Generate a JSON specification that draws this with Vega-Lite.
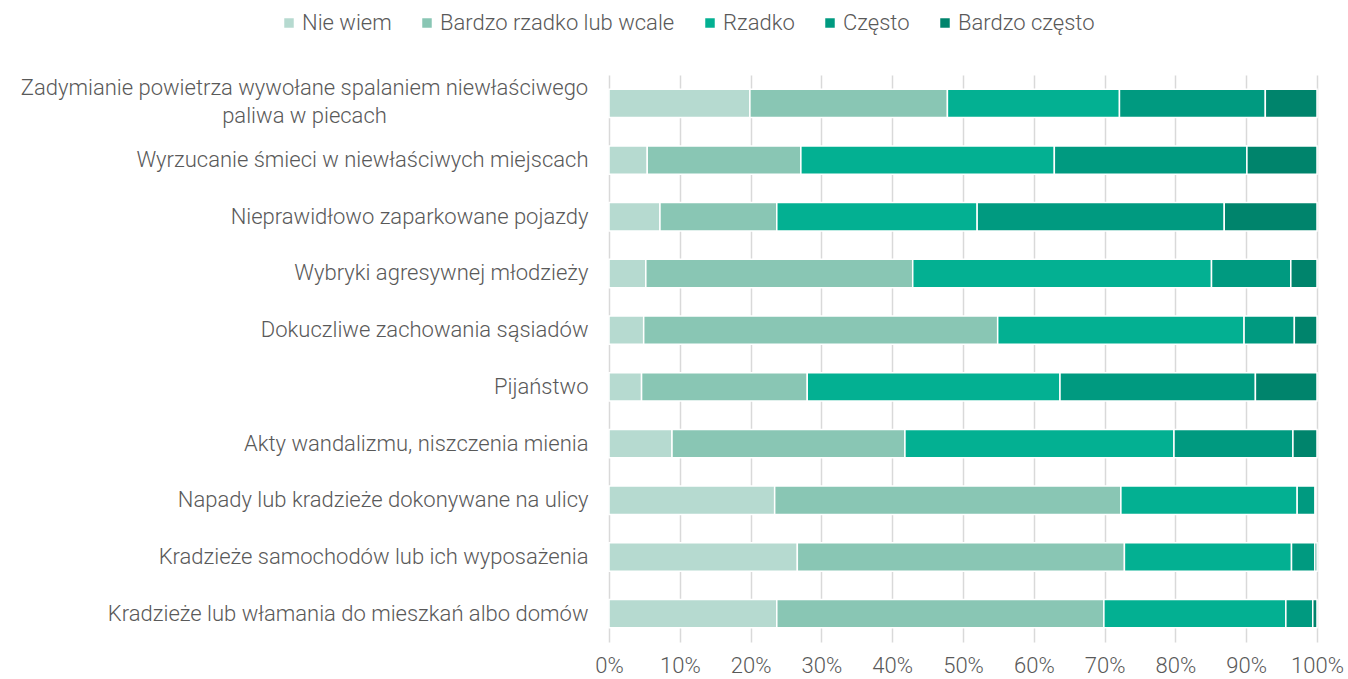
{
  "$schema": "https://vega.github.io/schema/vega-lite/v6.json",
  "autosize": {"type": "none"},
  "width": 708,
  "height": 567,
  "padding": {"left": 609, "top": 75, "right": 31, "bottom": 37},
  "background": "white",
  "config": {
    "view": {"stroke": null},
    "font": "Roboto",
    "axis": {"labelFont": "Roboto", "labelFontWeight": 300, "labelColor": "#595959", "labelFontSize": 22},
    "legend": {"labelFont": "Roboto", "labelFontWeight": 300, "labelColor": "#595959", "labelFontSize": 22}
  },
  "data": {
    "values": [
      {"category": "Zadymianie powietrza wywołane spalaniem niewłaściwego|paliwa w piecach", "answer": "Nie wiem", "ord": 1, "value": 19.9},
      {"category": "Zadymianie powietrza wywołane spalaniem niewłaściwego|paliwa w piecach", "answer": "Bardzo rzadko lub wcale", "ord": 2, "value": 27.9},
      {"category": "Zadymianie powietrza wywołane spalaniem niewłaściwego|paliwa w piecach", "answer": "Rzadko", "ord": 3, "value": 24.3},
      {"category": "Zadymianie powietrza wywołane spalaniem niewłaściwego|paliwa w piecach", "answer": "Często", "ord": 4, "value": 20.6},
      {"category": "Zadymianie powietrza wywołane spalaniem niewłaściwego|paliwa w piecach", "answer": "Bardzo często", "ord": 5, "value": 7.3},
      {"category": "Wyrzucanie śmieci w niewłaściwych miejscach", "answer": "Nie wiem", "ord": 1, "value": 5.4},
      {"category": "Wyrzucanie śmieci w niewłaściwych miejscach", "answer": "Bardzo rzadko lub wcale", "ord": 2, "value": 21.7},
      {"category": "Wyrzucanie śmieci w niewłaściwych miejscach", "answer": "Rzadko", "ord": 3, "value": 35.8},
      {"category": "Wyrzucanie śmieci w niewłaściwych miejscach", "answer": "Często", "ord": 4, "value": 27.2},
      {"category": "Wyrzucanie śmieci w niewłaściwych miejscach", "answer": "Bardzo często", "ord": 5, "value": 9.9},
      {"category": "Nieprawidłowo zaparkowane pojazdy", "answer": "Nie wiem", "ord": 1, "value": 7.2},
      {"category": "Nieprawidłowo zaparkowane pojazdy", "answer": "Bardzo rzadko lub wcale", "ord": 2, "value": 16.5},
      {"category": "Nieprawidłowo zaparkowane pojazdy", "answer": "Rzadko", "ord": 3, "value": 28.3},
      {"category": "Nieprawidłowo zaparkowane pojazdy", "answer": "Często", "ord": 4, "value": 34.9},
      {"category": "Nieprawidłowo zaparkowane pojazdy", "answer": "Bardzo często", "ord": 5, "value": 13.1},
      {"category": "Wybryki agresywnej młodzieży", "answer": "Nie wiem", "ord": 1, "value": 5.2},
      {"category": "Wybryki agresywnej młodzieży", "answer": "Bardzo rzadko lub wcale", "ord": 2, "value": 37.7},
      {"category": "Wybryki agresywnej młodzieży", "answer": "Rzadko", "ord": 3, "value": 42.2},
      {"category": "Wybryki agresywnej młodzieży", "answer": "Często", "ord": 4, "value": 11.2},
      {"category": "Wybryki agresywnej młodzieży", "answer": "Bardzo często", "ord": 5, "value": 3.7},
      {"category": "Dokuczliwe zachowania sąsiadów", "answer": "Nie wiem", "ord": 1, "value": 4.9},
      {"category": "Dokuczliwe zachowania sąsiadów", "answer": "Bardzo rzadko lub wcale", "ord": 2, "value": 50.0},
      {"category": "Dokuczliwe zachowania sąsiadów", "answer": "Rzadko", "ord": 3, "value": 34.8},
      {"category": "Dokuczliwe zachowania sąsiadów", "answer": "Często", "ord": 4, "value": 7.1},
      {"category": "Dokuczliwe zachowania sąsiadów", "answer": "Bardzo często", "ord": 5, "value": 3.2},
      {"category": "Pijaństwo", "answer": "Nie wiem", "ord": 1, "value": 4.6},
      {"category": "Pijaństwo", "answer": "Bardzo rzadko lub wcale", "ord": 2, "value": 23.4},
      {"category": "Pijaństwo", "answer": "Rzadko", "ord": 3, "value": 35.7},
      {"category": "Pijaństwo", "answer": "Często", "ord": 4, "value": 27.6},
      {"category": "Pijaństwo", "answer": "Bardzo często", "ord": 5, "value": 8.7},
      {"category": "Akty wandalizmu, niszczenia mienia", "answer": "Nie wiem", "ord": 1, "value": 8.9},
      {"category": "Akty wandalizmu, niszczenia mienia", "answer": "Bardzo rzadko lub wcale", "ord": 2, "value": 32.9},
      {"category": "Akty wandalizmu, niszczenia mienia", "answer": "Rzadko", "ord": 3, "value": 38.0},
      {"category": "Akty wandalizmu, niszczenia mienia", "answer": "Często", "ord": 4, "value": 16.8},
      {"category": "Akty wandalizmu, niszczenia mienia", "answer": "Bardzo często", "ord": 5, "value": 3.4},
      {"category": "Napady lub kradzieże dokonywane na ulicy", "answer": "Nie wiem", "ord": 1, "value": 23.4},
      {"category": "Napady lub kradzieże dokonywane na ulicy", "answer": "Bardzo rzadko lub wcale", "ord": 2, "value": 48.9},
      {"category": "Napady lub kradzieże dokonywane na ulicy", "answer": "Rzadko", "ord": 3, "value": 24.9},
      {"category": "Napady lub kradzieże dokonywane na ulicy", "answer": "Często", "ord": 4, "value": 2.5},
      {"category": "Kradzieże samochodów lub ich wyposażenia", "answer": "Nie wiem", "ord": 1, "value": 26.6},
      {"category": "Kradzieże samochodów lub ich wyposażenia", "answer": "Bardzo rzadko lub wcale", "ord": 2, "value": 46.2},
      {"category": "Kradzieże samochodów lub ich wyposażenia", "answer": "Rzadko", "ord": 3, "value": 23.6},
      {"category": "Kradzieże samochodów lub ich wyposażenia", "answer": "Często", "ord": 4, "value": 3.3},
      {"category": "Kradzieże samochodów lub ich wyposażenia", "answer": "Bardzo często", "ord": 5, "value": 0.3},
      {"category": "Kradzieże lub włamania do mieszkań albo domów", "answer": "Nie wiem", "ord": 1, "value": 23.7},
      {"category": "Kradzieże lub włamania do mieszkań albo domów", "answer": "Bardzo rzadko lub wcale", "ord": 2, "value": 46.2},
      {"category": "Kradzieże lub włamania do mieszkań albo domów", "answer": "Rzadko", "ord": 3, "value": 25.7},
      {"category": "Kradzieże lub włamania do mieszkań albo domów", "answer": "Często", "ord": 4, "value": 3.8},
      {"category": "Kradzieże lub włamania do mieszkań albo domów", "answer": "Bardzo często", "ord": 5, "value": 0.6}
    ]
  },
  "mark": {"type": "bar", "stroke": "white", "strokeWidth": 1.5},
  "encoding": {
    "y": {
      "field": "category",
      "type": "nominal",
      "sort": null,
      "title": null,
      "scale": {"paddingInner": 0.5, "paddingOuter": 0.25},
      "axis": {
        "domain": false,
        "ticks": false,
        "tickSize": 0,
        "labelLimit": 700,
        "labelLineHeight": 28,
        "labelExpr": "split(datum.label, '|')",
        "labelOffset": {"condition": {"test": "indexof(datum.value, '|') >= 0", "value": -15}, "value": 0},
        "labelAlign": {"condition": {"test": "indexof(datum.value, '|') >= 0", "value": "center"}, "value": "right"},
        "labelPadding": {"condition": {"test": "indexof(datum.value, '|') >= 0", "value": 305}, "value": 21}
      }
    },
    "x": {
      "field": "value",
      "type": "quantitative",
      "stack": "zero",
      "title": null,
      "scale": {"domain": [0, 100], "nice": false},
      "axis": {
        "values": [0, 10, 20, 30, 40, 50, 60, 70, 80, 90, 100],
        "labelExpr": "datum.value + '%'",
        "domain": false,
        "ticks": false,
        "tickSize": 0,
        "labelPadding": 13,
        "grid": true,
        "gridColor": "#d9d9d9",
        "gridWidth": 1.5,
        "labelFlush": false
      }
    },
    "color": {
      "field": "answer",
      "type": "nominal",
      "sort": ["Nie wiem", "Bardzo rzadko lub wcale", "Rzadko", "Często", "Bardzo często"],
      "scale": {
        "domain": ["Nie wiem", "Bardzo rzadko lub wcale", "Rzadko", "Często", "Bardzo często"],
        "range": ["#b6dad0", "#89c6b4", "#03b092", "#009a80", "#00846c"]
      },
      "legend": {
        "title": null,
        "orient": "none",
        "direction": "horizontal",
        "legendX": -331,
        "legendY": -63,
        "symbolType": "square",
        "symbolSize": 90,
        "symbolStrokeWidth": 0,
        "labelOffset": 2,
        "labelLimit": 400,
        "columnPadding": 24
      }
    },
    "order": {"field": "ord", "type": "quantitative"}
  }
}
